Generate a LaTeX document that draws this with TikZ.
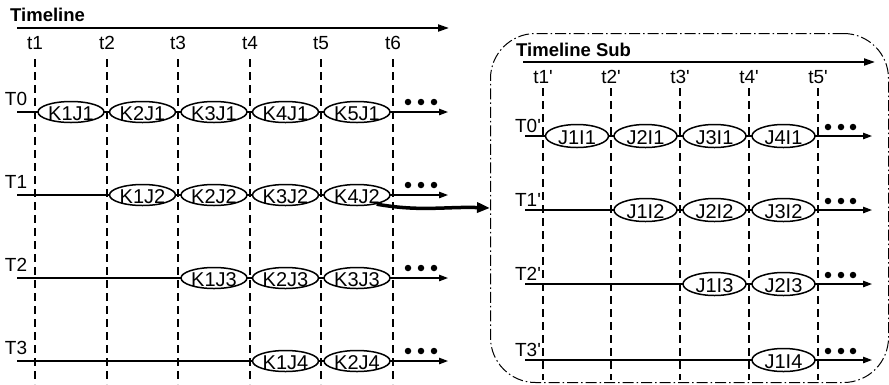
\documentclass[tikz,border=0pt]{standalone}
\usepackage{fontspec}
\setmainfont{Liberation Sans}[Ligatures=TeXOff]
\usetikzlibrary{arrows.meta,shapes.geometric}

% event label: zero-size box so the ellipse keeps its fixed size
\newcommand\evtxt[1]{\makebox[0pt]{\raisebox{-0.40em}[0pt][0pt]{#1}}}

\tikzset{
  tick/.style={dash pattern=on 8pt off 5pt, line width=1.1pt},
  evt/.style={ellipse, draw, fill=white, line width=1.5pt, minimum width=66pt,
              minimum height=21pt, inner sep=0pt, font=\fontsize{20}{20}\selectfont},
  subevt/.style={evt, minimum width=63pt, minimum height=23pt},
  rowline/.style={line width=1.2pt, -{Triangle[length=9pt,width=6.5pt]}},
  axis/.style={line width=2pt, -{Triangle[length=11pt,width=7pt]}},
  lbl/.style={font=\fontsize{19}{19}\selectfont, inner sep=0pt},
  title/.style={font=\bfseries\fontsize{18.5}{18.5}\selectfont, inner sep=0pt, anchor=west},
  more/.style={circle, fill=black, inner sep=0pt, minimum size=6.5pt},
  subbox/.style={draw, rounded corners=45pt, line width=1pt,
                 dash pattern=on 11pt off 3pt on 1.5pt off 3pt},
  link/.style={line width=3.5pt, -{Triangle[length=13pt,width=10pt]}}
}

\begin{document}
\begin{tikzpicture}[x=1pt,y=-1pt]
\useasboundingbox (0,0) rectangle (889,384);

% ---------------- main timeline ----------------
\node[title] (tl) at (10,15) {Timeline};
\coordinate (ax0) at (17,28);
\coordinate (ax1) at (449,28);
\draw[axis] (ax0) -- (ax1);

\foreach \x [count=\i] in {35,107,178,250,321,393} {
  \node[lbl] (t\i) at (\x,43) {t\i};
  \coordinate (vt\i) at (\x,59);
  \coordinate (vb\i) at (\x,384);
  \draw[tick] (vt\i) -- (vb\i);
}

\foreach \y/\r/\n in {112/0/5, 195/1/4, 278/2/3, 361/3/2} {
  \node[lbl] (T\r) at (16,\y-13) {T\r};
  \coordinate (rs\r) at (17,\y);
  \coordinate (re\r) at (448,\y);
  \draw[rowline] (rs\r) -- (re\r);
  \node[more] (d\r a) at (408,\y-10) {};
  \node[more] (d\r b) at (421,\y-10) {};
  \node[more] (d\r c) at (434,\y-10) {};
  \pgfmathtruncatemacro\jj{\r+1}
  \foreach \k in {1,...,\n} {
    \pgfmathsetmacro\cx{{71,142.5,214,285.5,357}[\r+\k-1]}
    \node[evt] (e-\r-\k) at (\cx,\y) {\evtxt{K\k J\jj}};
  }
}

% ---------------- sub timeline ----------------
\node[subbox, minimum width=398pt, minimum height=349pt, anchor=north west,
      inner sep=0pt] (box) at (490,33) {};
\node[title] (stl) at (516,50) {Timeline Sub};
\coordinate (sax0) at (523,62);
\coordinate (sax1) at (875,62);
\draw[axis] (sax0) -- (sax1);

\foreach \x [count=\i] in {543,611,680,749,818} {
  \node[lbl] (s\i) at (\x,77) {t\i'};
  \coordinate (svt\i) at (\x,88);
  \coordinate (svb\i) at (\x,380);
  \draw[tick] (svt\i) -- (svb\i);
}

\foreach \y/\r/\n in {136/0/4, 210/1/3, 284/2/2, 360/3/1} {
  \node[lbl] (S\r) at (528,\y-10) {T\r'};
  \coordinate (srs\r) at (525,\y);
  \coordinate (sre\r) at (872,\y);
  \draw[rowline] (srs\r) -- (sre\r);
  \node[more] (sd\r a) at (828,\y-9) {};
  \node[more] (sd\r b) at (841,\y-9) {};
  \node[more] (sd\r c) at (853,\y-9) {};
  \pgfmathtruncatemacro\ii{\r+1}
  \foreach \k in {1,...,\n} {
    \pgfmathsetmacro\cx{{577,645.5,714.5,783.5}[\r+\k-1]}
    \node[subevt] (se-\r-\k) at (\cx,\y) {\evtxt{J\k I\ii}};
  }
}

% ---------------- expansion link ----------------
\coordinate (boxin) at (490,208);
\draw[link] (e-1-4.-25) to[out=-10,in=178] (boxin);

\end{tikzpicture}
\end{document}
